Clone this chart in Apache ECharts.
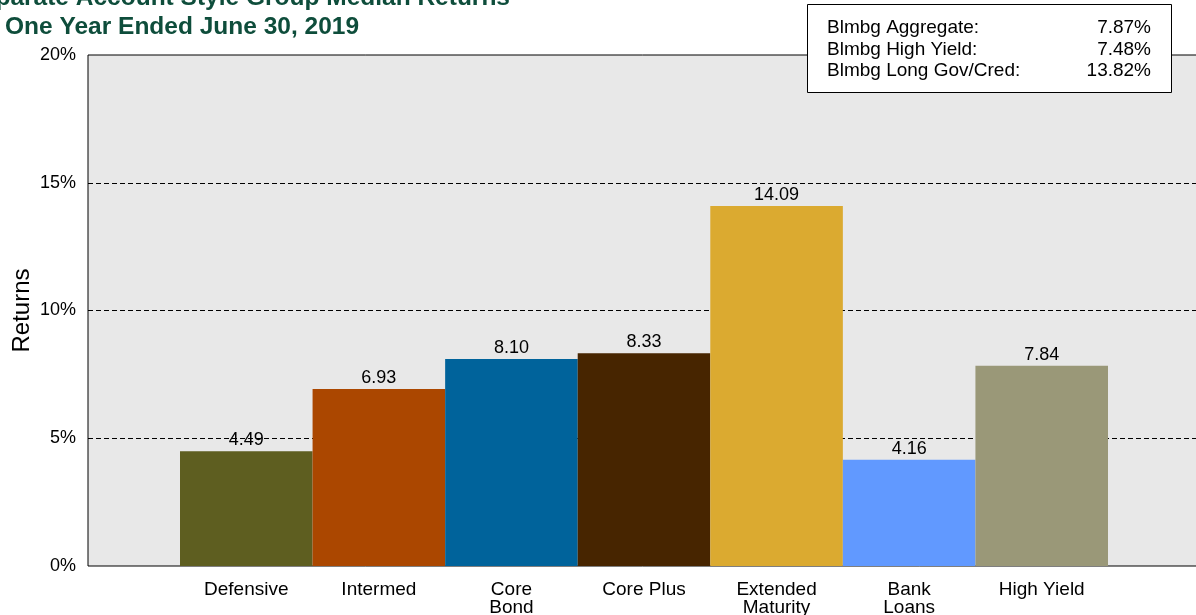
<!DOCTYPE html>
<html>
<head>
<meta charset="utf-8">
<script src="https://cdn.jsdelivr.net/npm/echarts@6/dist/echarts.min.js"></script>
<style>
html,body{margin:0;padding:0;background:#fff;}
#chart{width:1196px;height:615px;}
</style>
</head>
<body>
<div id="chart"></div>
<script>
var categories = ['Defensive', 'Intermed', 'Core\nBond', 'Core Plus', 'Extended\nMaturity', 'Bank\nLoans', 'High Yield'];
var values = [4.49, 6.93, 8.10, 8.33, 14.09, 4.16, 7.84];
var barColors = ['#5E5E20', '#AB4700', '#00639B', '#472500', '#DBAA30', '#6199FF', '#9A9878'];
var benchNames = ['Blmbg Aggregate:', 'Blmbg High Yield:', 'Blmbg Long Gov/Cred:'];
var benchValues = ['7.87%', '7.48%', '13.82%'];
var titleLines = ['Separate Account Style Group Median Returns', 'One Year Ended June 30, 2019'];

var FONT = '"Liberation Sans", Arial, sans-serif';
var chart = echarts.init(document.getElementById('chart'));

var graphics = [
  { type: 'text', z: 100, style: { text: titleLines[0], x: 510, y: -1.5, textAlign: 'right', textVerticalAlign: 'middle', font: 'bold 24.5px ' + FONT, fill: '#0E4D3B' } },
  { type: 'text', z: 100, style: { text: titleLines[1], x: 5, y: 27.5, textAlign: 'left', textVerticalAlign: 'middle', font: 'bold 24.5px ' + FONT, fill: '#0E4D3B' } },
  { type: 'rect', z: 100, shape: { x: 807.5, y: 4.5, width: 364, height: 88 }, style: { fill: '#fff', stroke: '#000', lineWidth: 1 } }
];
var rowY = [28, 50, 71];
benchNames.forEach(function (n, i) {
  graphics.push({ type: 'text', z: 101, style: { text: n, x: 827, y: rowY[i], textAlign: 'left', textVerticalAlign: 'middle', font: '19px ' + FONT, fill: '#000' } });
  graphics.push({ type: 'text', z: 101, style: { text: benchValues[i], x: 1151, y: rowY[i], textAlign: 'right', textVerticalAlign: 'middle', font: '19px ' + FONT, fill: '#000' } });
});

var option = {
  animation: false,
  backgroundColor: '#fff',
  graphic: graphics,
  grid: [
    { left: 88, top: 55, right: -20, bottom: 49, show: true, backgroundColor: '#E8E8E8', borderColor: '#000', borderWidth: 1, containLabel: false, outerBoundsMode: 'none' },
    { left: 180, top: 55, right: 88, bottom: 49, containLabel: false, outerBoundsMode: 'none' }
  ],
  xAxis: [
    { gridIndex: 0, type: 'value', min: 0, max: 1, show: false },
    {
      gridIndex: 1, type: 'category', data: categories,
      axisLine: { show: false }, axisTick: { show: false },
      axisLabel: { color: '#000', fontFamily: FONT, fontSize: 19, lineHeight: 18, margin: 15, interval: 0 }
    }
  ],
  yAxis: [
    {
      gridIndex: 0, type: 'value', min: 0, max: 20, interval: 5,
      name: 'Returns', nameLocation: 'middle', nameGap: 54, nameRotate: 90, nameMoveOverlap: false,
      nameTextStyle: { color: '#000', fontFamily: FONT, fontSize: 24 },
      axisLine: { show: false }, axisTick: { show: false },
      axisLabel: { formatter: '{value}%', color: '#000', fontFamily: FONT, fontSize: 18, margin: 12 },
      splitLine: { show: true, showMinLine: false, showMaxLine: false, lineStyle: { color: '#000', type: [5, 3], width: 1 } }
    },
    { gridIndex: 1, type: 'value', min: 0, max: 20, show: false, splitLine: { show: false } }
  ],
  series: [
    {
      type: 'bar', xAxisIndex: 1, yAxisIndex: 1,
      barWidth: '100%', barCategoryGap: '0%',
      data: values.map(function (v, i) { return { value: v, itemStyle: { color: barColors[i] } }; }),
      label: { show: true, position: 'top', distance: 2, color: '#000', fontFamily: FONT, fontSize: 18, formatter: function (p) { return p.value.toFixed(2); } }
    }
  ]
};
chart.setOption(option);
</script>
</body>
</html>
